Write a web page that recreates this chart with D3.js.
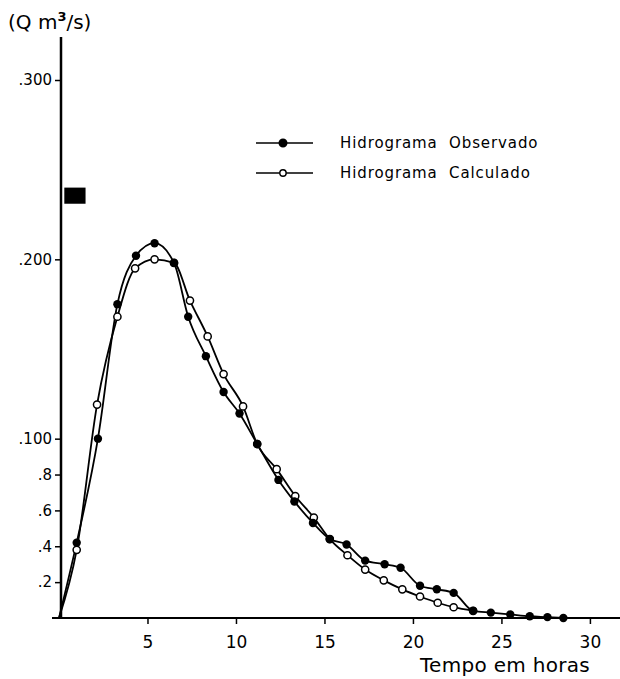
<!DOCTYPE html>
<html>
<head>
<meta charset="utf-8">
<script src="https://cdn.jsdelivr.net/npm/d3@7"></script>
<style>
  body { margin: 0; background: #fff; }
  text { font-family: "DejaVu Sans", sans-serif; fill: #000; }
</style>
</head>
<body>
<div id="chart"></div>
<script>
// horas e vazões
const tempoObs = [0, 1.0, 2.2, 3.3, 4.35, 5.4, 6.5, 7.3, 8.3, 9.3, 10.2, 11.2, 12.4, 13.3, 14.35, 15.3, 16.25, 17.3, 18.4, 19.3, 20.4, 21.35, 22.3, 23.4, 24.4, 25.5, 26.6, 27.6, 28.5];
const vazaoObs = [0, 0.042, 0.100, 0.175, 0.202, 0.209, 0.198, 0.168, 0.146, 0.126, 0.114, 0.097, 0.077, 0.065, 0.053, 0.044, 0.041, 0.032, 0.030, 0.028, 0.018, 0.016, 0.014, 0.004, 0.003, 0.002, 0.001, 0.0005, 0];
const tempoCalc = [0, 1.0, 2.15, 3.3, 4.3, 5.4, 6.5, 7.4, 8.4, 9.3, 10.4, 11.2, 12.3, 13.35, 14.4, 15.3, 16.3, 17.3, 18.35, 19.4, 20.4, 21.4, 22.3, 23.4];
const vazaoCalc = [0, 0.038, 0.119, 0.168, 0.195, 0.200, 0.198, 0.177, 0.157, 0.136, 0.118, 0.097, 0.083, 0.068, 0.056, 0.044, 0.035, 0.027, 0.021, 0.016, 0.012, 0.0085, 0.006, 0.004];

const xTicks = [5, 10, 15, 20, 25, 30];
const yTicks = [0.02, 0.04, 0.06, 0.08, 0.1, 0.2, 0.3];
const yTickLabels = [".2", ".4", ".6", ".8", ".100", ".200", ".300"];

// bloco de chuva (horas / vazão)
const chuva = { inicio: 0.3, fim: 1.5, topo: 0.240, base: 0.231 };

const width = 620, height = 679;

const svg = d3.select("#chart").append("svg")
    .attr("width", width)
    .attr("height", height);

const x = d3.scaleLinear().domain([0, 31.7]).range([59, 620]);
const y = d3.scaleLinear().domain([0, 0.3]).range([618, 80]);

// eixos
svg.append("line")
    .attr("x1", 52).attr("x2", 620)
    .attr("y1", y(0)).attr("y2", y(0))
    .attr("stroke", "#000").attr("stroke-width", 2);

svg.append("line")
    .attr("x1", x(0) + 2).attr("x2", x(0) + 2)
    .attr("y1", y(0)).attr("y2", 37)
    .attr("stroke", "#000").attr("stroke-width", 2.5);

const xAxis = svg.append("g")
    .attr("transform", `translate(0,${y(0)})`)
    .call(d3.axisBottom(x).tickValues(xTicks).tickSize(6).tickPadding(12))
    .call(g => g.select(".domain").remove());
xAxis.selectAll("line").attr("stroke-width", 1.5);
xAxis.selectAll("text")
    .attr("font-size", 17)
    .style("font-family", "DejaVu Sans, sans-serif");

const yAxis = svg.append("g")
    .attr("transform", `translate(${x(0) + 2},0)`)
    .call(d3.axisLeft(y).tickValues(yTicks).tickSize(6).tickPadding(3)
        .tickFormat((d, i) => yTickLabels[i]))
    .call(g => g.select(".domain").remove());
yAxis.selectAll("line").attr("stroke-width", 1.5);
yAxis.selectAll("text")
    .attr("font-size", 15)
    .style("font-family", "DejaVu Sans, sans-serif");

// títulos
const yTitle = svg.append("text")
    .attr("x", 8).attr("y", 29)
    .attr("font-size", 20);
yTitle.append("tspan").text("(Q m");
yTitle.append("tspan").text("3").attr("font-size", 13).attr("font-weight", "bold").attr("dy", -8);
yTitle.append("tspan").text("/s)").attr("dy", 8);

svg.append("text")
    .attr("x", 590).attr("y", 672)
    .attr("text-anchor", "end")
    .attr("font-size", 20)
    .attr("letter-spacing", 0.3)
    .text("Tempo em horas");

// chuva
svg.append("rect")
    .attr("x", x(chuva.inicio))
    .attr("y", y(chuva.topo))
    .attr("width", x(chuva.fim) - x(chuva.inicio))
    .attr("height", y(chuva.base) - y(chuva.topo))
    .attr("fill", "#000");

// curvas
const obs = tempoObs.map((t, i) => [t, vazaoObs[i]]);
const calc = tempoCalc.map((t, i) => [t, vazaoCalc[i]]);

const line = d3.line()
    .x(d => x(d[0]))
    .y(d => y(d[1]))
    .curve(d3.curveMonotoneX);

svg.append("path").datum(calc)
    .attr("d", line)
    .attr("fill", "none").attr("stroke", "#000").attr("stroke-width", 1.8);
svg.append("path").datum(obs)
    .attr("d", line)
    .attr("fill", "none").attr("stroke", "#000").attr("stroke-width", 1.8);

svg.append("g").selectAll("circle")
    .data(calc.slice(1))
    .join("circle")
    .attr("cx", d => x(d[0]))
    .attr("cy", d => y(d[1]))
    .attr("r", 3.6)
    .attr("fill", "#fff").attr("stroke", "#000").attr("stroke-width", 1.5);

svg.append("g").selectAll("circle")
    .data(obs.slice(1))
    .join("circle")
    .attr("cx", d => x(d[0]))
    .attr("cy", d => y(d[1]))
    .attr("r", 4.2)
    .attr("fill", "#000");

// legenda
const legend = [
    { label: "Hidrograma  Observado", filled: true, yy: 143 },
    { label: "Hidrograma  Calculado", filled: false, yy: 173 }
];
legend.forEach(l => {
    svg.append("line")
        .attr("x1", 256).attr("x2", 313)
        .attr("y1", l.yy).attr("y2", l.yy)
        .attr("stroke", "#000").attr("stroke-width", 1.6);
    svg.append("circle")
        .attr("cx", 283).attr("cy", l.yy)
        .attr("r", l.filled ? 3.8 : 3.2)
        .attr("fill", l.filled ? "#000" : "#fff")
        .attr("stroke", "#000").attr("stroke-width", 1.4);
    svg.append("text")
        .attr("x", 340).attr("y", l.yy + 5)
        .attr("font-size", 15)
        .attr("letter-spacing", 0.9)
        .style("white-space", "pre")
        .attr("xml:space", "preserve")
        .text(l.label);
});
</script>
</body>
</html>
